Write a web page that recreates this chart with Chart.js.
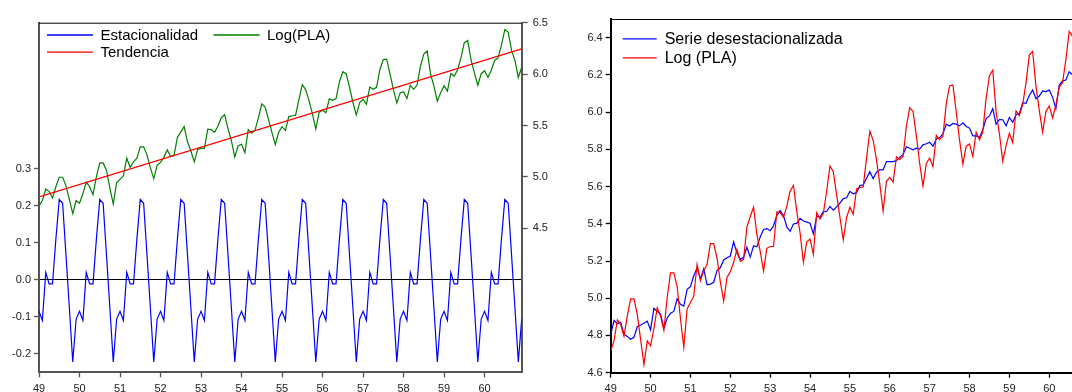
<!DOCTYPE html>
<html>
<head>
<meta charset="utf-8">
<script src="https://cdn.jsdelivr.net/npm/chart.js@4"></script>
<style>
  html, body { margin: 0; padding: 0; background: #fff; overflow: hidden; }
  #wrap { position: relative; width: 1072px; height: 392px; overflow: hidden; }
  #leftChart { position: absolute; left: 0; top: 0; }
  #rightChart { position: absolute; left: 560px; top: 0; }
</style>
</head>
<body>
<div id="wrap">
  <canvas id="leftChart" width="560" height="392"></canvas>
  <canvas id="rightChart" width="540" height="392"></canvas>
</div>
<script>
// monthly data Jan 1949 .. Dec 1960 (index 0..143)
const yearLabels = ['49', '50', '51', '52', '53', '54', '55', '56', '57', '58', '59', '60'];
const yearTickMonths = [0, 12, 24, 36, 48, 60, 72, 84, 96, 108, 120, 132];

const logPLA = [
  4.718, 4.771, 4.883, 4.860, 4.796, 4.905, 4.997, 4.997, 4.913, 4.779, 4.644, 4.771,
  4.745, 4.836, 4.949, 4.905, 4.828, 5.004, 5.136, 5.136, 5.063, 4.890, 4.736, 4.942,
  4.977, 5.011, 5.182, 5.094, 5.147, 5.182, 5.293, 5.293, 5.215, 5.088, 4.984, 5.112,
  5.142, 5.193, 5.263, 5.198, 5.209, 5.384, 5.438, 5.489, 5.342, 5.252, 5.147, 5.268,
  5.278, 5.278, 5.464, 5.460, 5.434, 5.493, 5.576, 5.606, 5.468, 5.352, 5.193, 5.303,
  5.318, 5.236, 5.460, 5.425, 5.455, 5.576, 5.710, 5.680, 5.557, 5.434, 5.313, 5.434,
  5.489, 5.451, 5.587, 5.595, 5.598, 5.753, 5.897, 5.849, 5.743, 5.613, 5.468, 5.628,
  5.649, 5.624, 5.759, 5.746, 5.762, 5.924, 6.023, 6.004, 5.872, 5.724, 5.602, 5.724,
  5.753, 5.707, 5.875, 5.852, 5.872, 6.045, 6.142, 6.146, 6.001, 5.849, 5.720, 5.817,
  5.829, 5.762, 5.892, 5.852, 5.894, 6.075, 6.196, 6.225, 6.001, 5.883, 5.737, 5.820,
  5.886, 5.835, 6.006, 5.981, 6.040, 6.157, 6.306, 6.326, 6.138, 6.009, 5.892, 6.004,
  6.033, 5.969, 6.038, 6.133, 6.157, 6.282, 6.433, 6.407, 6.230, 6.133, 5.966, 6.068
];

const estacionalidad = [
  -0.085, -0.110, 0.020, -0.011, -0.011, 0.110, 0.217, 0.207, 0.066, -0.077, -0.222, -0.106,
  -0.085, -0.110, 0.020, -0.011, -0.011, 0.110, 0.217, 0.207, 0.066, -0.077, -0.222, -0.106,
  -0.085, -0.110, 0.020, -0.011, -0.011, 0.110, 0.217, 0.207, 0.066, -0.077, -0.222, -0.106,
  -0.085, -0.110, 0.020, -0.011, -0.011, 0.110, 0.217, 0.207, 0.066, -0.077, -0.222, -0.106,
  -0.085, -0.110, 0.020, -0.011, -0.011, 0.110, 0.217, 0.207, 0.066, -0.077, -0.222, -0.106,
  -0.085, -0.110, 0.020, -0.011, -0.011, 0.110, 0.217, 0.207, 0.066, -0.077, -0.222, -0.106,
  -0.085, -0.110, 0.020, -0.011, -0.011, 0.110, 0.217, 0.207, 0.066, -0.077, -0.222, -0.106,
  -0.085, -0.110, 0.020, -0.011, -0.011, 0.110, 0.217, 0.207, 0.066, -0.077, -0.222, -0.106,
  -0.085, -0.110, 0.020, -0.011, -0.011, 0.110, 0.217, 0.207, 0.066, -0.077, -0.222, -0.106,
  -0.085, -0.110, 0.020, -0.011, -0.011, 0.110, 0.217, 0.207, 0.066, -0.077, -0.222, -0.106,
  -0.085, -0.110, 0.020, -0.011, -0.011, 0.110, 0.217, 0.207, 0.066, -0.077, -0.222, -0.106,
  -0.085, -0.110, 0.020, -0.011, -0.011, 0.110, 0.217, 0.207, 0.066, -0.077, -0.222, -0.106
];

// straight trend line, first and last month
const tendenciaMonths = [0, 143];
const tendencia = [4.805, 6.245];

const serieDesest = [
  4.803, 4.881, 4.863, 4.871, 4.807, 4.795, 4.780, 4.790, 4.847, 4.856, 4.866, 4.877,
  4.830, 4.946, 4.929, 4.916, 4.839, 4.894, 4.919, 4.929, 4.997, 4.967, 4.958, 5.048,
  5.062, 5.121, 5.162, 5.105, 5.158, 5.072, 5.076, 5.086, 5.149, 5.165, 5.206, 5.218,
  5.227, 5.303, 5.243, 5.209, 5.220, 5.274, 5.221, 5.282, 5.276, 5.329, 5.369, 5.374,
  5.363, 5.388, 5.444, 5.471, 5.445, 5.383, 5.359, 5.399, 5.402, 5.429, 5.415, 5.409,
  5.403, 5.346, 5.440, 5.436, 5.466, 5.466, 5.493, 5.473, 5.491, 5.511, 5.535, 5.540,
  5.574, 5.561, 5.567, 5.606, 5.609, 5.643, 5.680, 5.642, 5.677, 5.690, 5.690, 5.734,
  5.734, 5.734, 5.739, 5.757, 5.773, 5.814, 5.806, 5.797, 5.806, 5.801, 5.824, 5.830,
  5.838, 5.817, 5.855, 5.863, 5.883, 5.935, 5.925, 5.939, 5.935, 5.926, 5.942, 5.923,
  5.914, 5.872, 5.872, 5.863, 5.905, 5.965, 5.979, 6.018, 5.935, 5.960, 5.959, 5.926,
  5.971, 5.945, 5.986, 5.992, 6.051, 6.047, 6.089, 6.119, 6.072, 6.086, 6.114, 6.110,
  6.118, 6.079, 6.018, 6.144, 6.168, 6.172, 6.216, 6.200, 6.164, 6.210, 6.188, 6.174
];

const seasonTicks = [-0.2, -0.1, 0.0, 0.1, 0.2, 0.3];
const logTicksLeft = [4.5, 5.0, 5.5, 6.0, 6.5];
const logTicksRight = [4.6, 4.8, 5.0, 5.2, 5.4, 5.6, 5.8, 6.0, 6.2, 6.4];

const FONT = "'Liberation Sans', Arial, sans-serif";

const toPoints = (vals, xs) => vals.map((v, i) => ({ x: xs ? xs[i] : i, y: v }));

// legend + top frame line drawn inside the plot
const framePlugin = {
  id: 'frameLegend',
  afterDraw(chart, args, opts) {
    const { ctx, chartArea } = chart;
    ctx.save();
    ctx.strokeStyle = opts.topColor || '#000';
    ctx.lineWidth = 1;
    ctx.beginPath();
    ctx.moveTo(chartArea.left, chartArea.top + 0.5);
    ctx.lineTo(chartArea.right, chartArea.top + 0.5);
    ctx.stroke();

    ctx.font = opts.fontSize + 'px ' + FONT;
    ctx.textBaseline = 'middle';
    ctx.textAlign = 'left';
    (opts.items || []).forEach(item => {
      const ds = chart.data.datasets.find(d => d.label === item.label);
      ctx.strokeStyle = ds.borderColor;
      ctx.lineWidth = 1.3;
      ctx.beginPath();
      ctx.moveTo(item.x, item.y + 0.5);
      ctx.lineTo(item.x + opts.lineLen, item.y + 0.5);
      ctx.stroke();
      ctx.fillStyle = '#000';
      ctx.fillText(item.label, item.x + opts.lineLen + opts.gap, item.y + 1);
    });
    ctx.restore();
  }
};

const yearAxis = (height, borderColor) => ({
  type: 'linear',
  min: 0,
  max: 143,
  afterBuildTicks: s => { s.ticks = yearTickMonths.map(v => ({ value: v })); },
  afterFit: s => { s.height = height; },
  ticks: {
    autoSkip: false, maxRotation: 0, padding: 5,
    color: '#222', font: { family: FONT, size: 11 },
    callback: (v, i) => yearLabels[i]
  },
  grid: { drawOnChartArea: false, tickLength: 5, tickColor: borderColor, tickWidth: 1.3 },
  border: { color: borderColor, width: 2 }
});

new Chart(document.getElementById('leftChart'), {
  type: 'line',
  data: {
    datasets: [
      { label: 'Tendencia', data: toPoints(tendencia, tendenciaMonths), yAxisID: 'yR',
        borderColor: 'rgb(255,0,0)', borderWidth: 1.2, pointRadius: 0, tension: 0 },
      { label: 'Log(PLA)', data: toPoints(logPLA), yAxisID: 'yR',
        borderColor: 'rgb(0,128,0)', borderWidth: 1.2, pointRadius: 0, tension: 0 },
      { label: 'Estacionalidad', data: toPoints(estacionalidad), yAxisID: 'yL',
        borderColor: 'rgb(0,0,255)', borderWidth: 1.2, pointRadius: 0, tension: 0 }
    ]
  },
  options: {
    responsive: false,
    animation: false,
    layout: { padding: { left: 0, right: 0, top: 22.7, bottom: 0 } },
    plugins: {
      legend: { display: false },
      tooltip: { enabled: false },
      frameLegend: {
        fontSize: 15, lineLen: 46, gap: 7.5,
        items: [
          { label: 'Estacionalidad', x: 47, y: 34.5 },
          { label: 'Log(PLA)', x: 213.5, y: 34.5 },
          { label: 'Tendencia', x: 47, y: 51.7 }
        ]
      }
    },
    scales: {
      x: yearAxis(19.7, '#555'),
      yL: {
        type: 'linear', position: 'left', min: -0.25, max: 0.695,
        afterBuildTicks: s => { s.ticks = seasonTicks.map(v => ({ value: v })); },
        afterFit: s => { s.width = 39; },
        ticks: { padding: 3, color: '#222', font: { family: FONT, size: 11 },
                 callback: v => v.toFixed(1) },
        grid: {
          drawOnChartArea: true, tickLength: 5, tickColor: '#555', tickWidth: 1.3,
          color: c => (c.tick && Math.abs(c.tick.value) < 1e-9) ? '#000' : 'rgba(0,0,0,0)',
          lineWidth: 1
        },
        border: { color: '#555', width: 2 }
      },
      yR: {
        type: 'linear', position: 'right', min: 3.1, max: 6.5,
        afterBuildTicks: s => { s.ticks = logTicksLeft.map(v => ({ value: v })); },
        afterFit: s => { s.width = 38.3; },
        ticks: { padding: 5, color: '#222', font: { family: FONT, size: 11 },
                 callback: v => v.toFixed(1) },
        grid: { drawOnChartArea: false, tickLength: 6, tickColor: '#555', tickWidth: 1.3 },
        border: { color: '#555', width: 2 }
      }
    }
  },
  plugins: [framePlugin]
});

new Chart(document.getElementById('rightChart'), {
  type: 'line',
  data: {
    datasets: [
      { label: 'Log (PLA)', data: toPoints(logPLA),
        borderColor: 'rgb(255,0,0)', borderWidth: 1.2, pointRadius: 0, tension: 0 },
      { label: 'Serie desestacionalizada', data: toPoints(serieDesest),
        borderColor: 'rgb(0,0,255)', borderWidth: 1.2, pointRadius: 0, tension: 0 }
    ]
  },
  options: {
    responsive: false,
    animation: false,
    layout: { padding: { left: 0, right: 14.2, top: 19, bottom: 0 } },
    plugins: {
      legend: { display: false },
      tooltip: { enabled: false },
      frameLegend: {
        fontSize: 16, lineLen: 34, gap: 8,
        items: [
          { label: 'Serie desestacionalizada', x: 62.7, y: 38.3 },
          { label: 'Log (PLA)', x: 62.7, y: 57.3 }
        ]
      }
    },
    scales: {
      x: yearAxis(19.3, '#000'),
      y: {
        type: 'linear', position: 'left', min: 4.6, max: 6.5,
        afterBuildTicks: s => { s.ticks = logTicksRight.map(v => ({ value: v })); },
        afterFit: s => { s.width = 50.7; },
        ticks: { padding: 3, color: '#222', font: { family: FONT, size: 11 },
                 callback: v => v.toFixed(1) },
        grid: { drawOnChartArea: false, tickLength: 5, tickColor: '#000', tickWidth: 1.3 },
        border: { color: '#000', width: 2 }
      }
    }
  },
  plugins: [framePlugin]
});
</script>
</body>
</html>
